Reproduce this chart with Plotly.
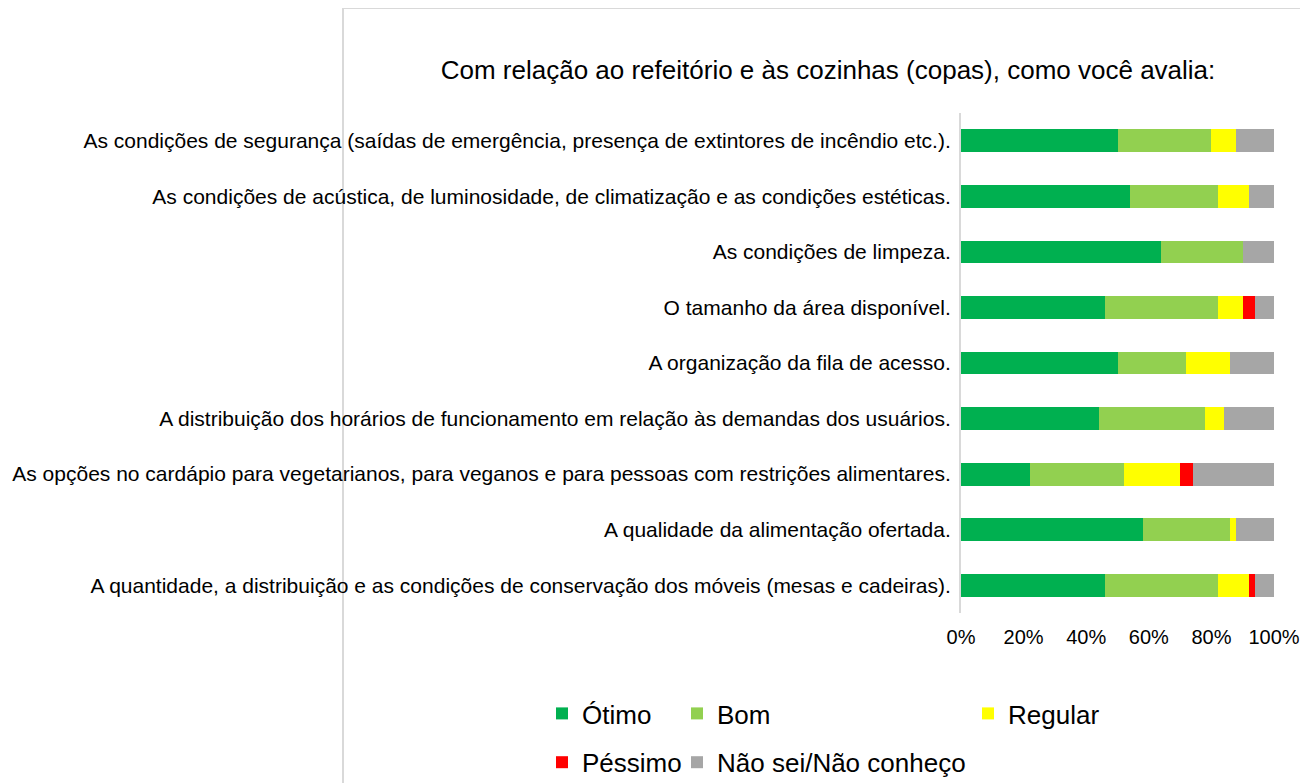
import plotly.graph_objects as go

categories = [
    "As condições de segurança (saídas de emergência, presença de extintores de incêndio etc.).",
    "As condições de acústica, de luminosidade, de climatização e as condições estéticas.",
    "As condições de limpeza.",
    "O tamanho da área disponível.",
    "A organização da fila de acesso.",
    "A distribuição dos horários de funcionamento em relação às demandas dos usuários.",
    "As opções no cardápio para vegetarianos, para veganos e para pessoas com restrições alimentares.",
    "A qualidade da alimentação ofertada.",
    "A quantidade, a distribuição e as condições de conservação dos móveis (mesas e cadeiras).",
]
otimo = [50, 54, 64, 46, 50, 44, 22, 58, 46]
bom = [30, 28, 26, 36, 22, 34, 30, 28, 36]
regular = [8, 10, 0, 8, 14, 6, 18, 2, 10]
pessimo = [0, 0, 0, 4, 0, 0, 4, 0, 2]
nao_sei = [12, 8, 10, 6, 14, 16, 26, 12, 6]

series = [
    ("Ótimo", otimo, "#00b050", "legend"),
    ("Bom", bom, "#92d050", "legend2"),
    ("Regular", regular, "#ffff00", "legend3"),
    ("Péssimo", pessimo, "#ff0000", "legend"),
    ("Não sei/Não conheço", nao_sei, "#a6a6a6", "legend2"),
]

FONT = "Liberation Sans, Arial, sans-serif"

fig = go.Figure()
for name, vals, color, lg in series:
    fig.add_trace(go.Bar(
        y=categories, x=vals, name=name, orientation="h",
        marker=dict(color=color, line=dict(width=0)),
        legend=lg, legendgroup=name,
        hoverinfo="x+name",
    ))

OFF = 8  # page body margin
W, H = 1308 - OFF, 783 - OFF
L = 961 - OFF
R = 1308 - 1274
T = 113 - OFF
B = 783 - 613
pw = W - L - R
ph = H - T - B

def px(xs):
    return (xs - OFF - L) / pw

def py(ys):
    return (H - B - (ys - OFF)) / ph

leg_common = dict(
    orientation="v", xanchor="left", yanchor="top",
    font=dict(family=FONT, size=26, color="#000000"),
    bgcolor="rgba(0,0,0,0)", itemwidth=30, tracegroupgap=12,
    traceorder="grouped",
)

fig.update_layout(
    width=W, height=H,
    barmode="stack", bargap=0.59,
    margin=dict(l=L, r=R, t=T, b=B, autoexpand=False),
    paper_bgcolor="white", plot_bgcolor="white",
    font=dict(family=FONT, color="#000000"),
    title=dict(
        text="Com relação ao refeitório e às cozinhas (copas), como você avalia:",
        font=dict(family=FONT, size=26, color="#000000"),
        x=(828 - OFF) / W, xanchor="center", y=1 - (70 - OFF) / H, yanchor="middle",
    ),
    xaxis=dict(
        range=[0, 100], dtick=20, ticksuffix="%", showgrid=False,
        zeroline=False, showline=False,
        tickfont=dict(family=FONT, size=20, color="#000000"),
        ticks="", fixedrange=True, ticklabelstandoff=10,
    ),
    yaxis=dict(
        autorange="reversed", showgrid=False, zeroline=False,
        showline=True, linecolor="#d9d9d9", linewidth=2,
        tickfont=dict(family=FONT, size=21, color="#000000"),
        ticks="", ticklabelstandoff=4,
    ),
    legend=dict(x=px(542), y=py(690), **leg_common),
    legend2=dict(x=px(677), y=py(690), **leg_common),
    legend3=dict(x=px(968), y=py(690), **leg_common),
    shapes=[
        dict(type="line", xref="paper", yref="paper",
             x0=px(343), x1=px(1320), y0=py(8), y1=py(8),
             line=dict(color="#d9d9d9", width=2), layer="below"),
        dict(type="line", xref="paper", yref="paper",
             x0=px(343), x1=px(343), y0=py(8), y1=py(800),
             line=dict(color="#d9d9d9", width=2), layer="below"),
    ],
)

fig.write_html("out.html")
